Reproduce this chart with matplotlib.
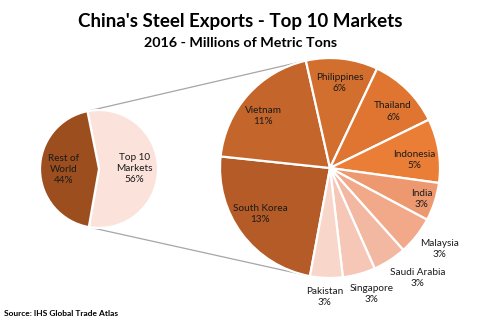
import numpy as np
import matplotlib
matplotlib.use("Agg")
import matplotlib.pyplot as plt

plt.rcParams['font.family'] = ['Lato', 'DejaVu Sans']

# China steel exports 2016, millions of metric tons
markets = ['South Korea', 'Vietnam', 'Philippines', 'Thailand', 'Indonesia',
           'India', 'Malaysia', 'Saudi Arabia', 'Singapore', 'Pakistan']
tons = [14.4, 12.0, 6.4, 6.5, 5.7, 3.4, 3.4, 3.0, 2.9, 2.9]
rest_of_world = 47.8

split_labels = ['Top 10\nMarkets', 'Rest of\nWorld']

market_colors = ['#B45B27', '#C4652B', '#D26E2E', '#DF7531', '#EA7E37',
                 '#EE9870', '#F1A98A', '#F3B8A1', '#F6C7B7', '#F8D6CA']
split_colors = ['#FBE3DB', '#9C4E1F']

# label placement: radius as a fraction of pie radius, and angle nudge (deg)
label_r = [0.76, 0.77, 0.78, 0.77, 0.77, 0.88, 1.24, 1.28, 1.21, 1.17]
label_da = [-3.5, 4.0, 0.0, -3.5, -3.5, -1.0, 1.8, 5.5, 3.0, -0.5]

W, H = 486, 331
fig = plt.figure(figsize=(W / 100, H / 100), dpi=100)
ax = fig.add_axes([0, 0, 1, 1])

total = sum(tons) + rest_of_world
top10 = sum(tons)

# small pie: top 10 vs rest of world
c1, r1 = (99, 162), 59
split_vals = [top10, rest_of_world]
w1, _ = ax.pie(split_vals, colors=split_colors, center=c1, radius=r1,
               startangle=101.3, counterclock=False,
               wedgeprops=dict(edgecolor='white', linewidth=1.6), frame=True)
for w, lab, v in zip(w1, split_labels, split_vals):
    mid = np.deg2rad((w.theta1 + w.theta2) / 2)
    x = c1[0] + 0.6 * r1 * np.cos(mid)
    y = c1[1] + 0.6 * r1 * np.sin(mid)
    ax.text(x, y, f'{lab}\n{v / total * 100:.0f}%', ha='center', va='center',
            fontsize=7.2, color='#1a1a1a', linespacing=1.3)

# big pie: breakdown of the top 10
c2, r2 = (330, 163), 110
w2, _ = ax.pie(tons, colors=market_colors, center=c2, radius=r2,
               startangle=259.5, counterclock=False,
               wedgeprops=dict(edgecolor='white', linewidth=1.6), frame=True)
ax.set_xlim(0, W)
ax.set_ylim(0, H)
ax.set_aspect('equal')
ax.axis('off')
for w, lab, v, rf, da in zip(w2, markets, tons, label_r, label_da):
    mid = np.deg2rad((w.theta1 + w.theta2) / 2 + da)
    x = c2[0] + rf * r2 * np.cos(mid)
    y = c2[1] + rf * r2 * np.sin(mid)
    ax.text(x, y, f'{lab}\n{v / total * 100:.0f}%', ha='center', va='center',
            fontsize=7.2, color='#1a1a1a', linespacing=1.3)

# connector lines between the two pies
top_small = np.deg2rad(w1[0].theta2)
bot_small = np.deg2rad(w1[0].theta1)
top_big = np.deg2rad(w2[1].theta1)
bot_big = np.deg2rad(w2[0].theta2)
for a_s, a_b in [(top_small, top_big), (bot_small, bot_big)]:
    ax.plot([c1[0] + r1 * np.cos(a_s), c2[0] + r2 * np.cos(a_b)],
            [c1[1] + r1 * np.sin(a_s), c2[1] + r2 * np.sin(a_b)],
            color='#a6a6a6', linewidth=0.9, zorder=0)

fig.text(0.494, 1 - 22 / H, "China's Steel Exports - Top 10 Markets",
         ha='center', va='center', fontsize=13.5, fontweight='bold')
fig.text(0.494, 1 - 43 / H, '2016 - Millions of Metric Tons',
         ha='center', va='center', fontsize=10.3, fontweight='bold')
fig.text(4 / W, 1 - 314 / H, 'Source: IHS Global Trade Atlas',
         ha='left', va='center', fontsize=6, fontweight='bold')

fig.savefig('out.png', dpi=100, facecolor='white')
